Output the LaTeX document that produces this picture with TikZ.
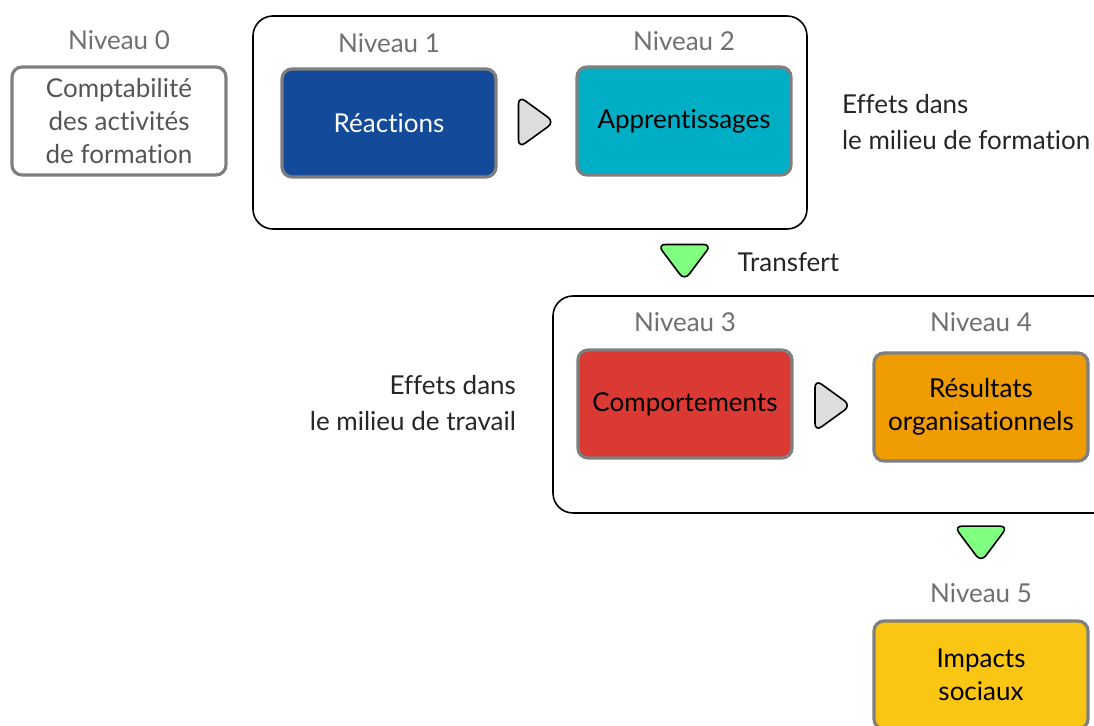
\documentclass[tikz,border=0pt]{standalone}
\usepackage{fontspec}
\setmainfont{Lato}[Ligatures={NoCommon}]
\usetikzlibrary{calc, positioning}

\definecolor{bleuN}{HTML}{134A9A}
\definecolor{cyanN}{HTML}{00AFC6}
\definecolor{rougeN}{HTML}{DB3A34}
\definecolor{orangeN}{HTML}{EF9C00}
\definecolor{jauneN}{HTML}{FBC513}
\definecolor{vertFl}{HTML}{80FF80}
\definecolor{grisFl}{HTML}{DDDDDD}
\definecolor{grisBord}{HTML}{7F7F7F}
\definecolor{grisNiv}{HTML}{707070}
\definecolor{grisTxt}{HTML}{555555}

\begin{document}
\begin{tikzpicture}[x=0.5pt, y=-0.5pt,
    box/.style={draw=grisBord, line width=1.6pt, rounded corners=5pt,
        minimum width=107pt, minimum height=54pt, align=center, inner sep=0pt,
        font=\fontsize{13}{16.5}\selectfont},
    niveau/.style={text=grisNiv, font=\fontsize{13}{14}\selectfont},
    effet/.style={text=black!85, font=\fontsize{13}{18}\selectfont},
    cadre/.style={draw, line width=0.8pt, rounded corners=10pt},
    fleche/.style={draw, line width=0.8pt, fill=grisFl, rounded corners=4pt},
    descente/.style={draw, line width=0.8pt, fill=vertFl, rounded corners=4pt}]
\useasboundingbox (0,0) rectangle (1094,726);
\clip (0,0) rectangle (1094,726);

% cadres
\draw[cadre] (253,16) rectangle (807,229);
\draw[cadre] (553,296) rectangle (1120,513);

% niveaux
\node[box, text=grisTxt] (n0) at (119,121) {Comptabilité\\des activités\\de formation};
\node[box, fill=bleuN, text=white] (n1) at (389,123) {Réactions};
\node[box, fill=cyanN] (n2) at (684,121) {Apprentissages};
\node[box, fill=rougeN] (n3) at (685,404) {Comportements};
\node[box, fill=orangeN] (n4) at (981,407) {Résultats\\organisationnels};
\node[box, fill=jauneN] (n5) at (981,675) {Impacts\\sociaux};

\node[niveau, above=4.5pt of n0] (l0) {Niveau 0};
\node[niveau, above=4pt of n1] (l1) {Niveau 1};
\node[niveau, above=4pt of n2] (l2) {Niveau 2};
\node[niveau, above=5pt of n3] (l3) {Niveau 3};
\node[niveau, above=6.5pt of n4] (l4) {Niveau 4};
\node[niveau, above=5pt of n5] (l5) {Niveau 5};

% fleches
\coordinate (f12) at ($(n1.east)!0.5!(n2.west)$);
\coordinate (f34) at ($(n3.east)!0.5!(n4.west)$);
\coordinate (t1) at ($(n2.south)!0.5!(n3.north)$);
\coordinate (t2) at ($(n4.south)!0.52!(n5.north)$);
\draw[fleche] (f12) ++(-18,-26) -- ++(36,26) -- ++(-36,26) -- cycle;
\draw[fleche] (f34) ++(-18,-26) -- ++(36,26) -- ++(-36,26) -- cycle;
\draw[descente] (t1) ++(-27,-18) -- ++(54,0) -- ++(-27,36) -- cycle;
\draw[descente] (t2) ++(-27,-18) -- ++(54,0) -- ++(-27,36) -- cycle;

% textes
\node[effet, right=23pt of t1] (tr) {Transfert};
\node[effet, anchor=west, align=left] (e1) at (835,122) {Effets dans\\le milieu de formation};
\node[effet, anchor=east, align=right] (e2) at (523,403) {Effets dans\\le milieu de travail};
\end{tikzpicture}
\end{document}
